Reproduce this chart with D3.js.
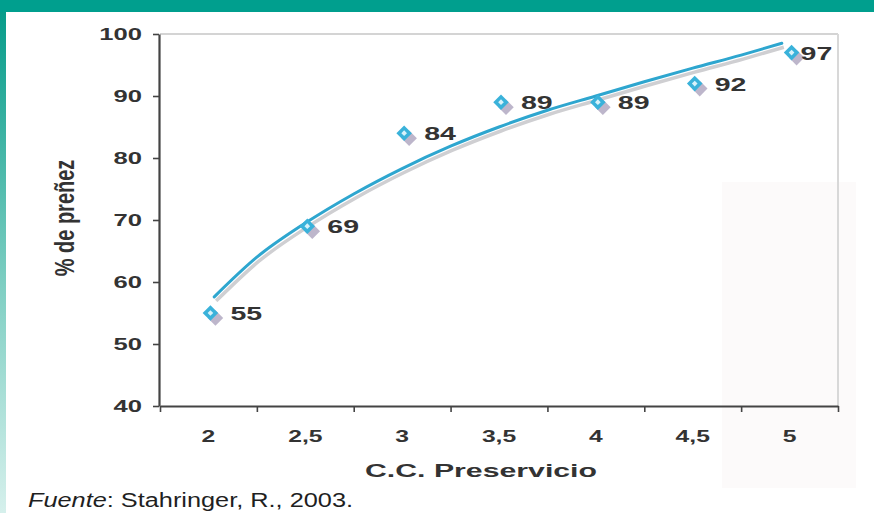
<!DOCTYPE html>
<html>
<head>
<meta charset="utf-8">
<script src="https://cdn.jsdelivr.net/npm/d3@7"></script>
<style>
  html, body { margin: 0; padding: 0; background: #fff; }
  svg { display: block; }
  text { font-family: "Liberation Sans", Arial, sans-serif; }
</style>
</head>
<body>
<svg id="chart" width="874" height="513"></svg>
<script>
// ---- data ----
const categories = ["2", "2,5", "3", "3,5", "4", "4,5", "5"];
const ccValues = [2, 2.5, 3, 3.5, 4, 4.5, 5];
const pregnancy = [55, 69, 84, 89, 89, 92, 97];
const yTicks = [40, 50, 60, 70, 80, 90, 100];
// trend line (C.C., % preñez)
const trendCC  = [2.03, 2.25, 2.5, 2.75, 3.0, 3.25, 3.5, 3.75, 4.0, 4.25, 4.5, 4.75, 4.96];
const trendPct = [57.6, 64.0, 69.5, 74.2, 78.3, 81.9, 85.0, 87.7, 90.0, 92.3, 94.5, 96.6, 98.5];
const yTitle = "% de preñez";
const xTitle = "C.C. Preservicio";
const sourceItalic = "Fuente";
const sourceRest = ": Stahringer, R., 2003.";

(function () {
const svg = d3.select("#chart");
const W = 874, H = 513;

// frame
const defs = svg.append("defs");
const lg = defs.append("linearGradient").attr("id", "leftGrad")
  .attr("x1", 0).attr("y1", 0).attr("x2", 0).attr("y2", 1);
lg.append("stop").attr("offset", "0%").attr("stop-color", "#079c8a");
lg.append("stop").attr("offset", "55%").attr("stop-color", "#7fcfc3");
lg.append("stop").attr("offset", "100%").attr("stop-color", "#d6f0ec");
svg.append("rect").attr("x", 0).attr("y", 0).attr("width", W).attr("height", 12).attr("fill", "#009f8e");
svg.append("rect").attr("x", 0).attr("y", 12).attr("width", 6).attr("height", H - 12).attr("fill", "url(#leftGrad)");

// faint scan tint at right
svg.append("rect").attr("x", 722).attr("y", 182).attr("width", 134).attr("height", 306)
  .attr("fill", "#fcfafa");

// scales
const pLeft = 160, pRight = 838, pTop = 34, pBottom = 406;
const xBand = d3.scaleBand().domain(categories).range([pLeft, pRight]).padding(0);
const xLin = d3.scaleLinear().domain([1.75, 5.25]).range([pLeft, pRight]);
const y = d3.scaleLinear().domain([40, 100]).range([pBottom, pTop]);

function stretch(sel, k) {
  sel.each(function () {
    const t = d3.select(this);
    const w = this.getComputedTextLength();
    t.attr("textLength", w * k).attr("lengthAdjust", "spacingAndGlyphs");
  });
}

// plot border (top gridline + right edge)
svg.append("line").attr("x1", pLeft).attr("x2", pRight).attr("y1", y(100)).attr("y2", y(100))
  .attr("stroke", "#d4d4d4").attr("stroke-width", 2);
svg.append("line").attr("x1", pRight).attr("x2", pRight).attr("y1", y(100)).attr("y2", pBottom)
  .attr("stroke", "#d8d8d8").attr("stroke-width", 2);

// y axis
const gy = svg.append("g").attr("transform", `translate(${pLeft - 1},0)`)
  .call(d3.axisLeft(y).tickValues(yTicks).tickSize(6).tickPadding(11).tickSizeOuter(0));
gy.select(".domain").attr("stroke", "#444").attr("stroke-width", 2.2);
gy.selectAll(".tick line").attr("stroke", "#444").attr("stroke-width", 1.6);
gy.selectAll(".tick text").attr("font-size", 16.5).attr("font-weight", "bold").attr("fill", "#333")
  .attr("dy", "0.36em");
stretch(gy.selectAll(".tick text"), 1.55);

// x axis: boundary ticks
const gx = svg.append("g").attr("transform", `translate(0,${pBottom})`)
  .call(d3.axisBottom(xLin).tickValues(d3.range(1.75, 5.26, 0.5)).tickSize(6).tickFormat("").tickSizeOuter(0));
gx.select(".domain").attr("stroke", "#444").attr("stroke-width", 2.2);
gx.selectAll(".tick line").attr("stroke", "#444").attr("stroke-width", 1.6);

// x axis: category labels
const gxl = svg.append("g").attr("transform", `translate(0,${pBottom})`)
  .call(d3.axisBottom(xBand).tickSize(0).tickPadding(24));
gxl.select(".domain").remove();
gxl.selectAll(".tick text").attr("font-size", 17).attr("font-weight", "bold").attr("fill", "#333");
stretch(gxl.selectAll(".tick text"), 1.45);

// trend line (shadow + line)
const pts = trendCC.map((c, i) => [c, trendPct[i]]);
const line = d3.line().x(d => xLin(d[0])).y(d => y(d[1])).curve(d3.curveMonotoneX);
svg.append("path").attr("d", line(pts)).attr("fill", "none")
  .attr("stroke", "#cfcfd2").attr("stroke-width", 3.5)
  .attr("transform", "translate(2,4)");
svg.append("path").attr("d", line(pts)).attr("fill", "none")
  .attr("stroke", "#2ea6cf").attr("stroke-width", 3).attr("stroke-linecap", "round");

// markers
const data = categories.map((c, i) => ({ c, cc: ccValues[i], v: pregnancy[i] }));
const cx = d => xLin(d.cc) + 2;
const mk = svg.append("g");
mk.selectAll(".shadow").data(data).join("rect").attr("class", "shadow")
  .attr("x", -5.5).attr("y", -5.5).attr("width", 11).attr("height", 11)
  .attr("fill", "#bdb6cb")
  .attr("transform", d => `translate(${cx(d) + 5},${y(d.v) + 5}) rotate(45)`);
mk.selectAll(".dia").data(data).join("rect").attr("class", "dia")
  .attr("x", -5.5).attr("y", -5.5).attr("width", 11).attr("height", 11)
  .attr("fill", "#3ab2da")
  .attr("transform", d => `translate(${cx(d)},${y(d.v)}) rotate(45)`);
mk.selectAll(".dot").data(data).join("rect").attr("class", "dot")
  .attr("x", -2).attr("y", -2).attr("width", 4).attr("height", 4)
  .attr("fill", "#d8f2fa")
  .attr("transform", d => `translate(${cx(d)},${y(d.v)}) rotate(45)`);

// value labels
const labels = svg.append("g").selectAll("text").data(data).join("text")
  .attr("x", (d, i) => cx(d) + (i === data.length - 1 ? 9 : 20))
  .attr("y", d => y(d.v) + 7)
  .attr("font-size", 19).attr("font-weight", "bold").attr("fill", "#333")
  .text(d => d.v);
stretch(labels, 1.5);

// axis titles
svg.append("text")
  .attr("transform", `translate(74,218) scale(1.35,1) rotate(-90)`)
  .attr("text-anchor", "middle")
  .attr("font-size", 20).attr("font-weight", "bold").attr("fill", "#333")
  .text(yTitle);

const xt = svg.append("text").attr("x", 481).attr("y", 477).attr("text-anchor", "middle")
  .attr("font-size", 17.5).attr("font-weight", "bold").attr("fill", "#333")
  .text(xTitle);
xt.attr("textLength", 232).attr("lengthAdjust", "spacingAndGlyphs");

// source
const src = svg.append("text").attr("x", 28).attr("y", 507)
  .attr("font-size", 20).attr("fill", "#1f1f1f");
src.append("tspan").attr("font-style", "italic").text(sourceItalic);
src.append("tspan").text(sourceRest);
src.attr("textLength", 325).attr("lengthAdjust", "spacingAndGlyphs");
})();
</script>
</body>
</html>
